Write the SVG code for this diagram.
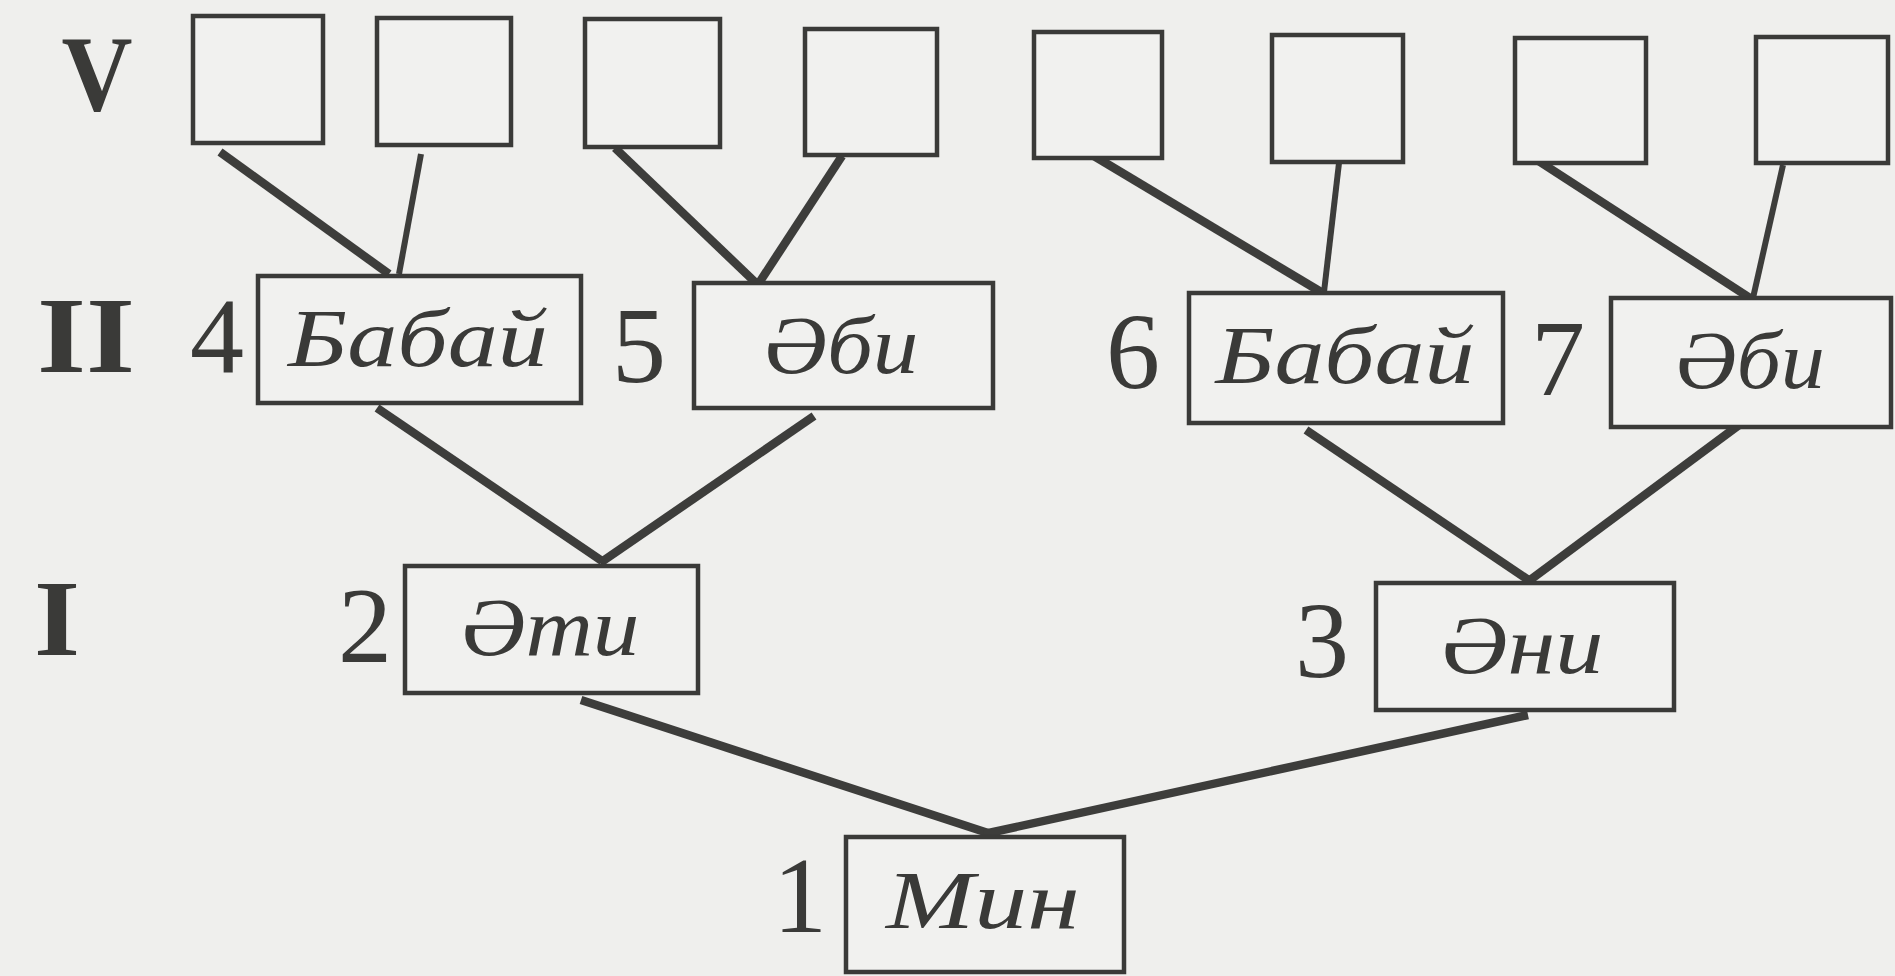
<svg xmlns="http://www.w3.org/2000/svg" width="1895" height="976" viewBox="0 0 1895 976">
<style>
.bg{fill:#efefed}
.box{fill:#f1f1ef;stroke:#3a3a38;stroke-width:4.5}
.ln{fill:none;stroke:#3d3d3b;stroke-width:8.5;stroke-linecap:butt}
.thin{stroke-width:6}
.name{font-family:"Liberation Serif","DejaVu Serif",serif;font-style:italic;font-size:82px;fill:#3a3a38;text-anchor:middle}
.num{font-family:"Liberation Serif","DejaVu Serif",serif;font-size:108px;fill:#3a3a38;text-anchor:middle}
.gen{font-family:"Liberation Serif","DejaVu Serif",serif;font-weight:bold;font-size:108px;fill:#3a3a38;text-anchor:middle}
</style>
<rect class="bg" x="0" y="0" width="1895" height="976"/>
<g id="generations">
<text class="gen" x="97" y="110" textLength="71" lengthAdjust="spacingAndGlyphs">V</text>
<text class="gen" x="86" y="372" textLength="98" lengthAdjust="spacingAndGlyphs">II</text>
<text class="gen" x="57" y="655" textLength="46" lengthAdjust="spacingAndGlyphs">I</text>
</g>
<g id="connectors">
<line class="ln" x1="220" y1="152" x2="389" y2="274"/>
<line class="ln thin" x1="421" y1="154" x2="399" y2="274"/>
<line class="ln" x1="615" y1="148" x2="756" y2="283"/>
<line class="ln" x1="842" y1="156" x2="759" y2="283"/>
<line class="ln" x1="1089" y1="153" x2="1321" y2="292"/>
<line class="ln thin" x1="1339" y1="163" x2="1324" y2="292"/>
<line class="ln" x1="1537" y1="160" x2="1750" y2="298"/>
<line class="ln thin" x1="1783" y1="165" x2="1753" y2="298"/>
<line class="ln" x1="377" y1="408" x2="602" y2="561"/>
<line class="ln" x1="814" y1="416" x2="600" y2="563"/>
<line class="ln" x1="1306" y1="430" x2="1530" y2="581"/>
<line class="ln" x1="1739" y1="425" x2="1526" y2="583"/>
<line class="ln" x1="581" y1="700" x2="988" y2="833"/>
<line class="ln" x1="1528" y1="715" x2="984" y2="834"/>
</g>
<g id="v1"><rect class="box" x="193" y="16" width="130" height="127"/></g>
<g id="v2"><rect class="box" x="377" y="18" width="134" height="127"/></g>
<g id="v3"><rect class="box" x="585" y="19" width="135" height="128"/></g>
<g id="v4"><rect class="box" x="805" y="29" width="132" height="126"/></g>
<g id="v5"><rect class="box" x="1034" y="32" width="128" height="126"/></g>
<g id="v6"><rect class="box" x="1272" y="35" width="131" height="127"/></g>
<g id="v7"><rect class="box" x="1515" y="38" width="131" height="125"/></g>
<g id="v8"><rect class="box" x="1756" y="37" width="132" height="126"/></g>
<g id="n4">
<text class="num" x="217" y="373">4</text>
<rect class="box" x="258" y="276" width="323" height="127"/>
<text class="name" x="418" y="366" textLength="260" lengthAdjust="spacingAndGlyphs">Бабай</text>
</g>
<g id="n5">
<text class="num" x="639" y="382">5</text>
<rect class="box" x="694" y="283" width="299" height="125"/>
<text class="name" x="841" y="373" textLength="155" lengthAdjust="spacingAndGlyphs">Әби</text>
</g>
<g id="n6">
<text class="num" x="1133" y="388">6</text>
<rect class="box" x="1189" y="293" width="314" height="130"/>
<text class="name" x="1345" y="383" textLength="259" lengthAdjust="spacingAndGlyphs">Бабай</text>
</g>
<g id="n7">
<text class="num" x="1558" y="395">7</text>
<rect class="box" x="1611" y="298" width="280" height="129"/>
<text class="name" x="1750" y="388" textLength="150" lengthAdjust="spacingAndGlyphs">Әби</text>
</g>
<g id="n2">
<text class="num" x="365" y="662">2</text>
<rect class="box" x="405" y="566" width="293" height="127"/>
<text class="name" x="550" y="655" textLength="179" lengthAdjust="spacingAndGlyphs">Әти</text>
</g>
<g id="n3">
<text class="num" x="1322" y="677">3</text>
<rect class="box" x="1376" y="583" width="298" height="127"/>
<text class="name" x="1522" y="673" textLength="163" lengthAdjust="spacingAndGlyphs">Әни</text>
</g>
<g id="n1">
<text class="num" x="800" y="932">1</text>
<rect class="box" x="846" y="837" width="278" height="135"/>
<text class="name" x="983" y="928" textLength="194" lengthAdjust="spacingAndGlyphs">Мин</text>
</g>
</svg>
